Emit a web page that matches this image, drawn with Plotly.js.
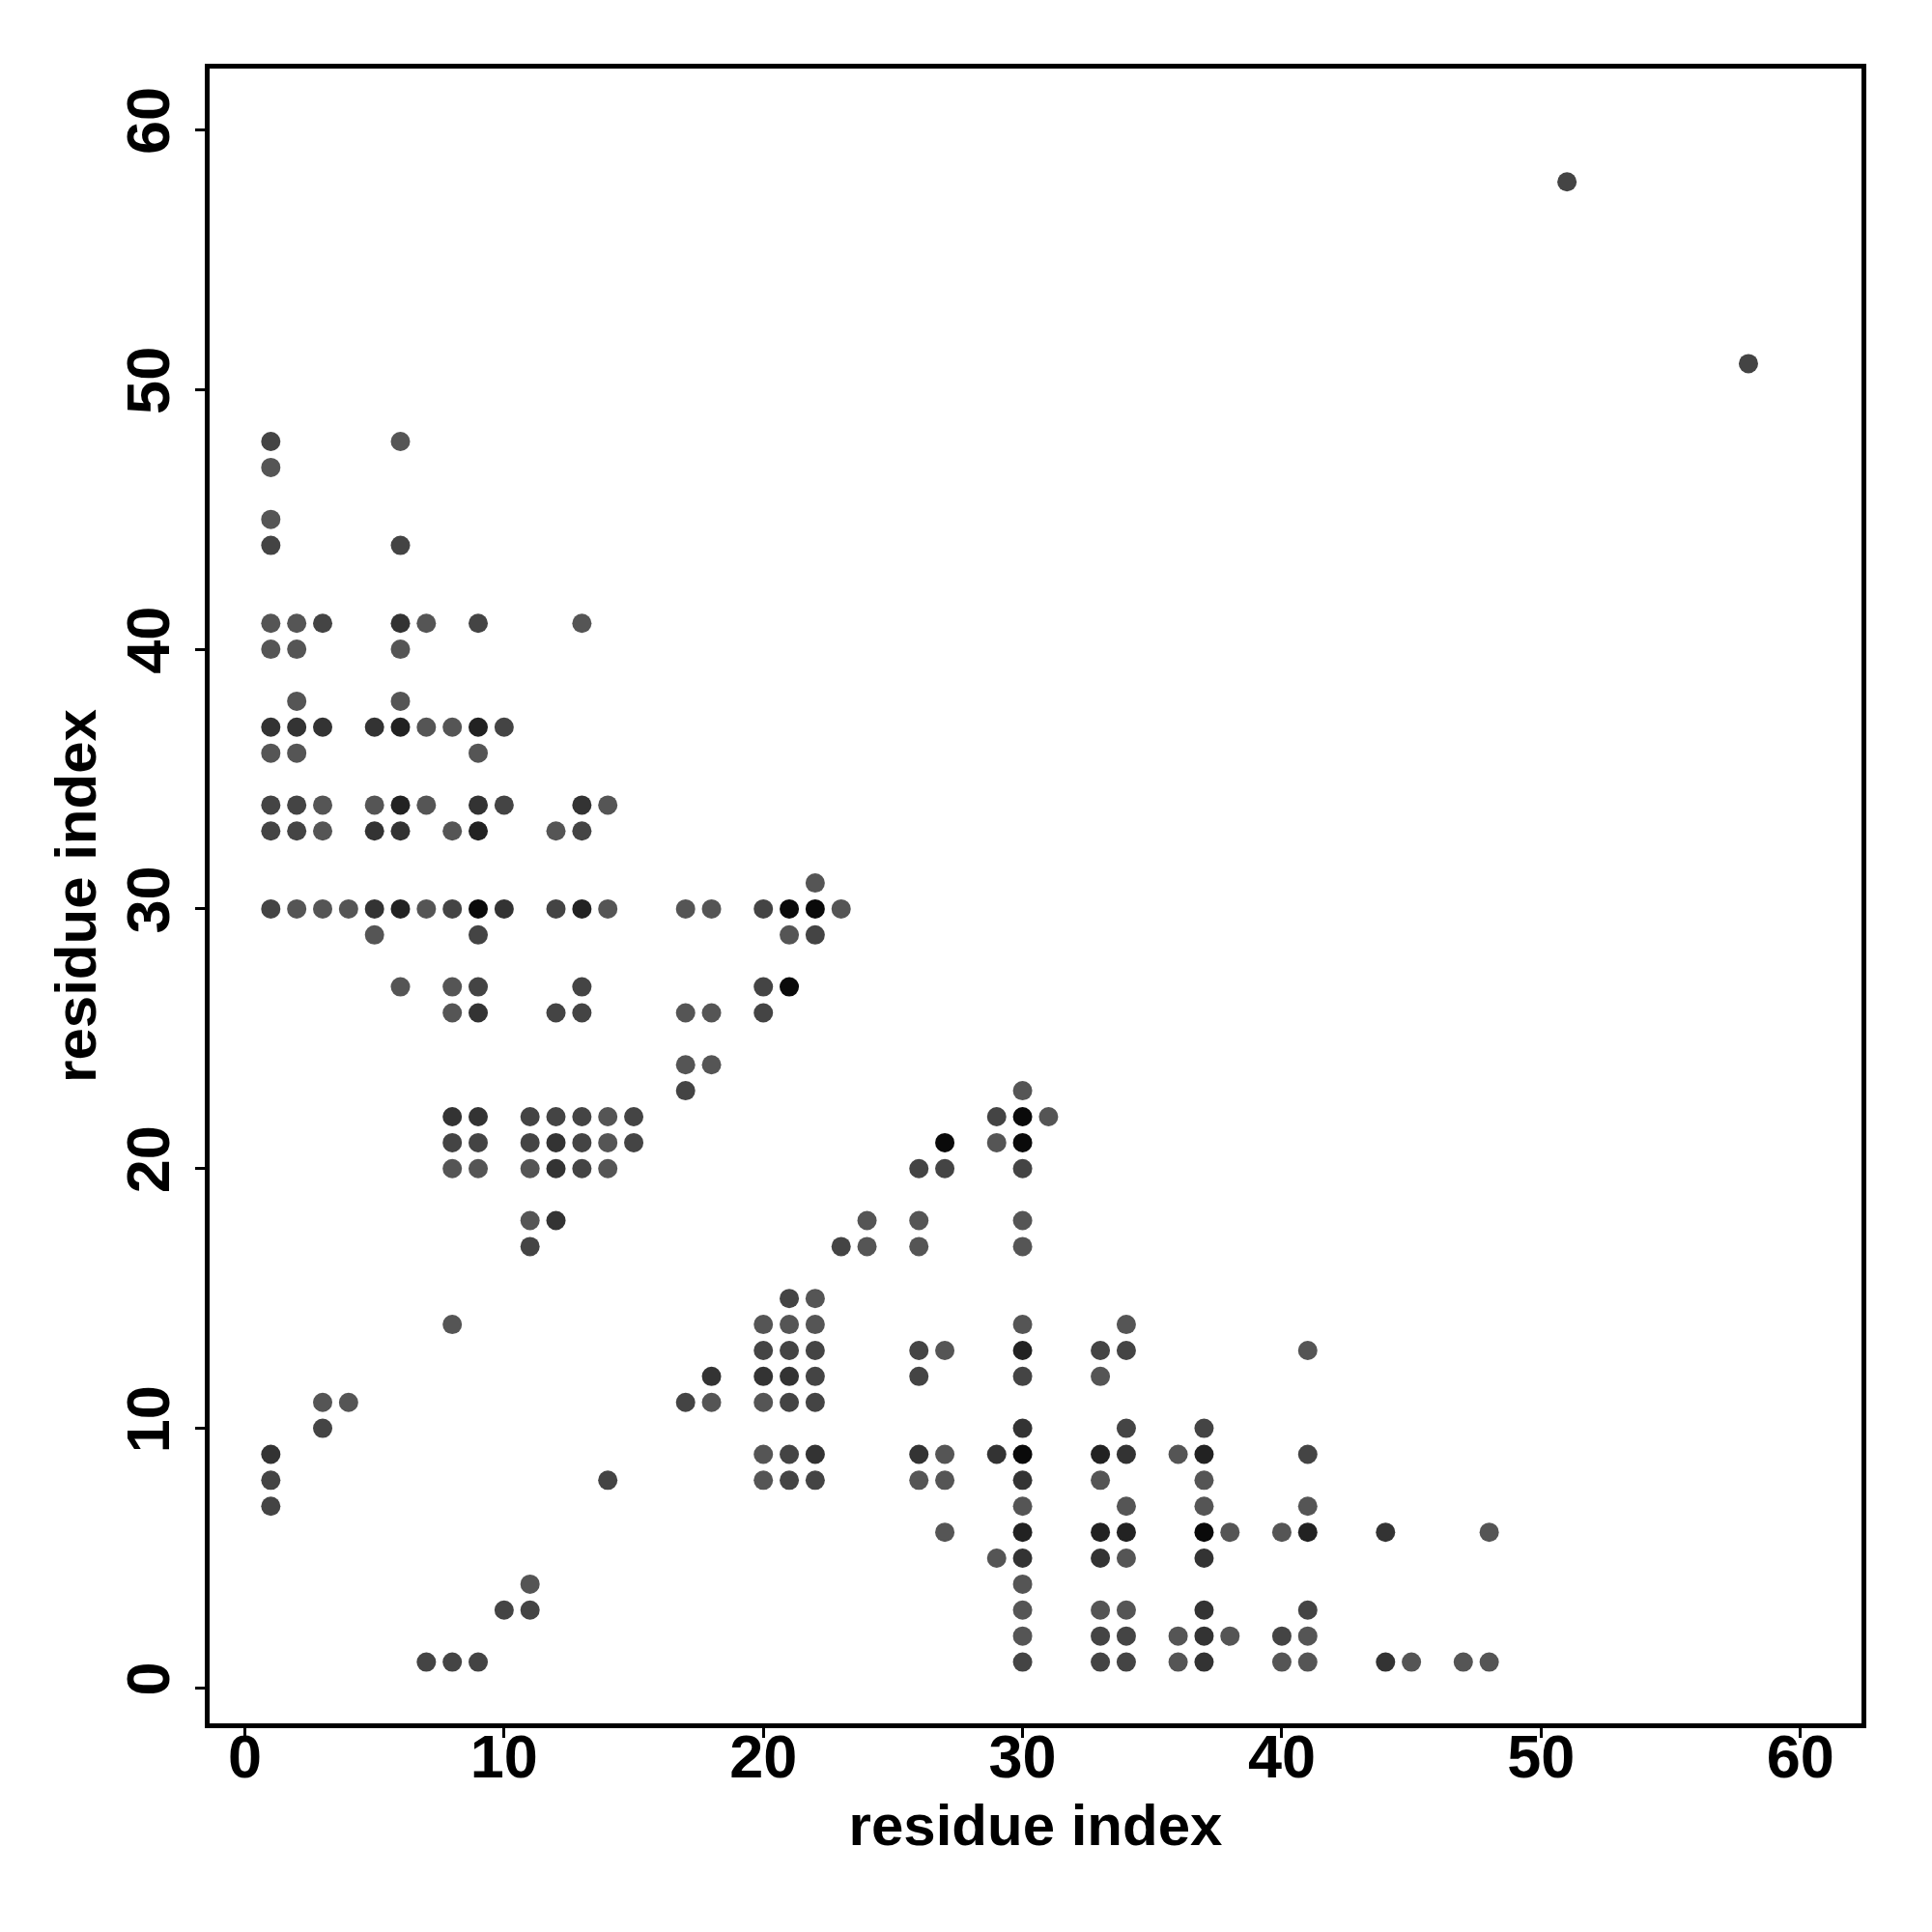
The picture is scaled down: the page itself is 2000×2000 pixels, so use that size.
<!DOCTYPE html>
<html>
<head>
<meta charset="utf-8">
<script src="https://cdn.plot.ly/plotly-3.0.1.min.js"></script>
<style>html,body{margin:0;padding:0;background:#fff;}</style>
</head>
<body>
<div id="chart" style="width:2000px;height:2000px;"></div>
<script>
// Contact map: residue pairs (x, y) and darkness level (0 = lightest grey, 4 = black)
const resX = [
  51,
  58,
  1, 6,
  1,
  1,
  1, 6,
  1, 2, 3, 6, 7, 9, 13,
  1, 2, 6,
  2, 6,
  1, 2, 3, 5, 6, 7, 8, 9, 10,
  1, 2, 9,
  1, 2, 3, 5, 6, 7, 9, 10, 13, 14,
  1, 2, 3, 5, 6, 8, 9, 12, 13,
  22,
  1, 2, 3, 4, 5, 6, 7, 8, 9, 10, 12, 13, 14, 17, 18, 20, 21, 22, 23,
  5, 9, 21, 22,
  6, 8, 9, 13, 20, 21,
  8, 9, 12, 13, 17, 18, 20,
  17, 18,
  17, 30,
  8, 9, 11, 12, 13, 14, 15, 29, 30, 31,
  8, 9, 11, 12, 13, 14, 15, 27, 29, 30,
  8, 9, 11, 12, 13, 14, 26, 27, 30,
  11, 12, 24, 26, 30,
  11, 23, 24, 26, 30,
  21, 22,
  8, 20, 21, 22, 30, 34,
  20, 21, 22, 26, 27, 30, 33, 34, 41,
  18, 20, 21, 22, 26, 30, 33,
  3, 4, 17, 18, 20, 21, 22,
  3, 30, 34, 37,
  1, 20, 21, 22, 26, 27, 29, 30, 33, 34, 36, 37, 41,
  1, 14, 20, 21, 22, 26, 27, 30, 33, 37,
  1, 30, 34, 37, 41,
  27, 30, 33, 34, 37, 38, 40, 41, 44, 48,
  29, 30, 33, 34, 37,
  11, 30,
  10, 11, 30, 33, 34, 37, 41,
  30, 33, 34, 36, 37, 38, 40, 41,
  7, 8, 9, 30, 33, 34, 36, 37, 40, 41, 44, 45, 47, 48
];
const resY = [
  58,
  51,
  48, 48,
  47,
  45,
  44, 44,
  41, 41, 41, 41, 41, 41, 41,
  40, 40, 40,
  38, 38,
  37, 37, 37, 37, 37, 37, 37, 37, 37,
  36, 36, 36,
  34, 34, 34, 34, 34, 34, 34, 34, 34, 34,
  33, 33, 33, 33, 33, 33, 33, 33, 33,
  31,
  30, 30, 30, 30, 30, 30, 30, 30, 30, 30, 30, 30, 30, 30, 30, 30, 30, 30, 30,
  29, 29, 29, 29,
  27, 27, 27, 27, 27, 27,
  26, 26, 26, 26, 26, 26, 26,
  24, 24,
  23, 23,
  22, 22, 22, 22, 22, 22, 22, 22, 22, 22,
  21, 21, 21, 21, 21, 21, 21, 21, 21, 21,
  20, 20, 20, 20, 20, 20, 20, 20, 20,
  18, 18, 18, 18, 18,
  17, 17, 17, 17, 17,
  15, 15,
  14, 14, 14, 14, 14, 14,
  13, 13, 13, 13, 13, 13, 13, 13, 13,
  12, 12, 12, 12, 12, 12, 12,
  11, 11, 11, 11, 11, 11, 11,
  10, 10, 10, 10,
  9, 9, 9, 9, 9, 9, 9, 9, 9, 9, 9, 9, 9,
  8, 8, 8, 8, 8, 8, 8, 8, 8, 8,
  7, 7, 7, 7, 7,
  6, 6, 6, 6, 6, 6, 6, 6, 6, 6,
  5, 5, 5, 5, 5,
  4, 4,
  3, 3, 3, 3, 3, 3, 3,
  2, 2, 2, 2, 2, 2, 2, 2,
  1, 1, 1, 1, 1, 1, 1, 1, 1, 1, 1, 1, 1, 1
];
const darkness = [
  1,
  1,
  1, 0,
  0,
  0,
  1, 1,
  0, 0, 1, 2, 0, 1, 0,
  0, 0, 0,
  0, 0,
  2, 2, 2, 2, 3, 0, 0, 3, 1,
  0, 0, 0,
  1, 1, 0, 0, 3, 0, 2, 1, 2, 0,
  1, 1, 0, 2, 2, 0, 3, 0, 1,
  0,
  1, 0, 0, 0, 2, 3, 0, 1, 4, 2, 1, 3, 0, 0, 0, 1, 4, 4, 0,
  0, 1, 0, 1,
  0, 0, 1, 1, 1, 4,
  0, 2, 1, 1, 0, 0, 1,
  0, 0,
  1, 0,
  2, 2, 1, 1, 1, 0, 1, 1, 4, 0,
  1, 1, 1, 2, 1, 0, 1, 4, 0, 4,
  0, 0, 0, 2, 1, 0, 1, 1, 1,
  0, 2, 0, 0, 0,
  1, 1, 0, 0, 0,
  1, 0,
  0, 0, 0, 0, 0, 0,
  1, 1, 1, 1, 0, 3, 1, 1, 0,
  2, 2, 2, 1, 1, 1, 0,
  0, 0, 1, 0, 0, 1, 1,
  1, 2, 1, 1,
  2, 0, 1, 2, 2, 0, 2, 4, 3, 2, 0, 3, 1,
  1, 1, 0, 1, 1, 0, 0, 2, 0, 0,
  1, 0, 0, 0, 0,
  0, 3, 3, 3, 4, 0, 0, 3, 2, 0,
  0, 2, 2, 0, 2,
  0, 0,
  1, 1, 0, 0, 0, 2, 1,
  0, 1, 1, 0, 2, 0, 1, 0,
  1, 1, 1, 1, 1, 1, 0, 2, 0, 0, 2, 0, 0, 0
];
const tickValues = [0, 10, 20, 30, 40, 50, 60];
const axisTitle = "residue index";

const fontFamily = "Liberation Sans, Arial, Helvetica, sans-serif";

const trace = {
  type: "scatter",
  mode: "markers",
  x: resX,
  y: resY,
  marker: {
    size: 20,
    color: darkness,
    cmin: 0,
    cmax: 4,
    colorscale: [[0, "#555555"], [0.25, "#444444"], [0.5, "#333333"], [0.75, "#222222"], [1, "#0a0a0a"]],
    showscale: false,
    line: {width: 0}
  },
  hoverinfo: "x+y"
};

const axisCommon = {
  range: [-1.36, 62.36],
  tickvals: tickValues,
  ticktext: tickValues.map(String),
  ticks: "outside",
  ticklen: 10,
  tickwidth: 3,
  tickcolor: "#000",
  showline: true,
  mirror: true,
  linewidth: 5,
  linecolor: "#000",
  showgrid: false,
  zeroline: false,
  tickfont: {family: fontFamily, size: 63, color: "#000", weight: "bold"}
};

const layout = {
  width: 2000,
  height: 2000,
  margin: {l: 217, r: 73, t: 71, b: 216},
  paper_bgcolor: "#fff",
  plot_bgcolor: "#fff",
  showlegend: false,
  xaxis: Object.assign({}, axisCommon, {
    ticklabelstandoff: -35,
    title: {text: axisTitle, font: {family: fontFamily, size: 60, color: "#000", weight: "bold"}, standoff: 18}
  }),
  yaxis: Object.assign({}, axisCommon, {
    tickangle: -90,
    ticklabelstandoff: 2,
    title: {text: axisTitle, font: {family: fontFamily, size: 60, color: "#000", weight: "bold"}, standoff: 0}
  })
};

Plotly.newPlot("chart", [trace], layout, {displayModeBar: false, staticPlot: true});
</script>
</body>
</html>
